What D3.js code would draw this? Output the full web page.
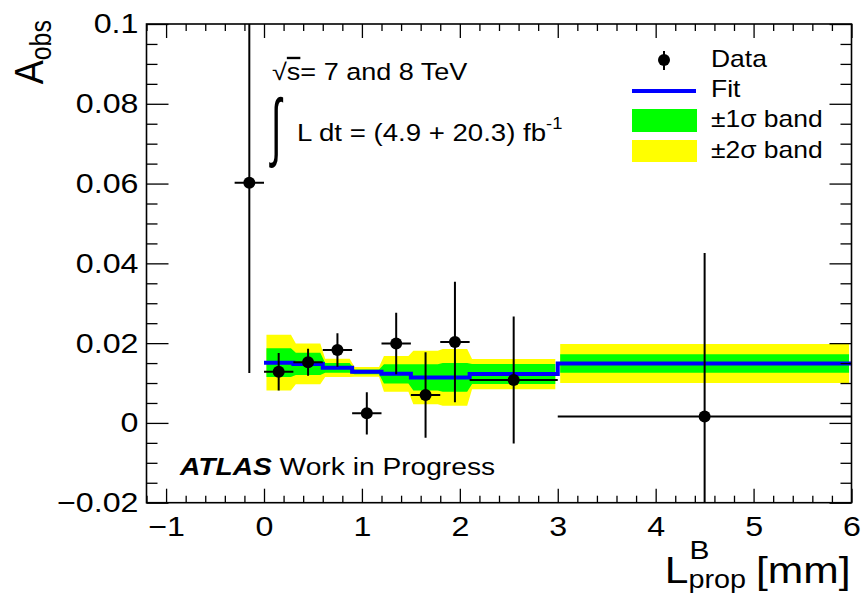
<!DOCTYPE html>
<meta charset="utf-8">
<style>
  body { margin: 0; background: #fff; }
  text { font-family: "Liberation Sans", Arial, Helvetica, sans-serif; fill: #000; }
</style>
<svg width="862" height="595"></svg>
<script src="https://cdn.jsdelivr.net/npm/d3@7/dist/d3.min.js"></script>
<script>

    // measured points: bin centre, half bin width, asymmetry, error
    var binX    = [-0.15, 0.15, 0.45, 0.75, 1.05, 1.35, 1.65, 1.95, 2.55, 4.5];
    var binHalf = [0.15, 0.15, 0.15, 0.15, 0.15, 0.15, 0.15, 0.15, 0.45, 1.5];
    var aObs    = [0.0602, 0.0128, 0.0152, 0.01825, 0.0024, 0.0199, 0.0070, 0.0203, 0.01075, 0.0016];
    var aErr    = [0.0477, 0.0047, 0.0034, 0.0042, 0.0053, 0.0077, 0.0107, 0.0151, 0.0159, 0.041];

    // fit and its bands, per fit bin
    var fitLo   = [0, 0.3, 0.6, 0.9, 1.2, 1.5, 1.8, 2.1, 3.0];
    var fitHi   = [0.3, 0.6, 0.9, 1.2, 1.5, 1.8, 2.1, 3.0, 6.0];
    var fitVal  = [0.0151, 0.0148, 0.0138, 0.0128, 0.0123, 0.0114, 0.0114, 0.01225, 0.0149];
    var sig1    = [0.0036, 0.0028, 0.0012, 0.0006, 0.0024, 0.0033, 0.0036, 0.0025, 0.0023];
    var sig2    = [0.0070, 0.0051, 0.0023, 0.0012, 0.0045, 0.0067, 0.0071, 0.0038, 0.0049];
    var bandGroup = [0, 0, 0, 0, 0, 0, 0, 0, 1];   // band is not joined across x = 3

    var xTicks = [-1, 0, 1, 2, 3, 4, 5, 6];
    var xTickLabels = ["\u22121", "0", "1", "2", "3", "4", "5", "6"];
    var yTicks = [-0.02, 0, 0.02, 0.04, 0.06, 0.08, 0.1];
    var yTickLabels = ["\u22120.02", "0", "0.02", "0.04", "0.06", "0.08", "0.1"];

    var svg = d3.select("svg"),
        frame = {left: 146.5, right: 851.5, top: 24, bottom: 502.7};

    var S = 1.15;   // the original canvas is stretched sideways, text too

    var x = d3.scaleLinear().domain([-1.2, 6]).range([frame.left, frame.right]);
    var y = d3.scaleLinear().domain([-0.02, 0.1]).range([frame.bottom, frame.top]);

    function label(parent, px, py, size, anchor) {
        return parent.append("text")
            .attr("transform", "translate(" + px + "," + py + ") scale(" + S + ",1)")
            .attr("font-size", size)
            .attr("text-anchor", anchor || "start");
    }

    svg.append("defs").append("clipPath").attr("id", "fr")
        .append("rect")
        .attr("x", frame.left).attr("y", frame.top)
        .attr("width", frame.right - frame.left).attr("height", frame.bottom - frame.top);

    var plot = svg.append("g").attr("clip-path", "url(#fr)");

    // bands
    var inset = 0.025;
    function bandPts(grp, sig) {
        var pts = [];
        fitLo.forEach(function(lo, i) {
            if (bandGroup[i] !== grp) return;
            pts.push({x: lo + inset, lo: fitVal[i] - sig[i], hi: fitVal[i] + sig[i]});
            pts.push({x: fitHi[i] - inset, lo: fitVal[i] - sig[i], hi: fitVal[i] + sig[i]});
        });
        return pts;
    }
    var area = d3.area().x((d) => x(d.x)).y0((d) => y(d.lo)).y1((d) => y(d.hi));
    var groups = Array.from(new Set(bandGroup));
    groups.forEach(function(gp) {
        plot.append("path").datum(bandPts(gp, sig2)).attr("d", area).attr("fill", "#ffff00");
    });
    groups.forEach(function(gp) {
        plot.append("path").datum(bandPts(gp, sig1)).attr("d", area).attr("fill", "#00ff00");
    });

    // fit step line
    var fitPts = [];
    fitLo.forEach(function(lo, i) {
        fitPts.push([lo, fitVal[i]]);
        fitPts.push([fitHi[i], fitVal[i]]);
    });
    plot.append("path").datum(fitPts)
        .attr("d", d3.line().x((d) => x(d[0])).y((d) => y(d[1])))
        .attr("fill", "none").attr("stroke", "#0000ff").attr("stroke-width", 4);

    // data points
    var pts = binX.map((v, i) => ({x: v, h: binHalf[i], a: aObs[i], e: aErr[i]}));
    var pg = plot.append("g").attr("stroke", "#000").attr("stroke-width", 2);
    pg.selectAll("line.h").data(pts).enter().append("line")
        .attr("x1", (d) => x(d.x - d.h)).attr("x2", (d) => x(d.x + d.h))
        .attr("y1", (d) => y(d.a)).attr("y2", (d) => y(d.a));
    pg.selectAll("line.v").data(pts).enter().append("line")
        .attr("x1", (d) => x(d.x)).attr("x2", (d) => x(d.x))
        .attr("y1", (d) => y(d.a - d.e)).attr("y2", (d) => y(d.a + d.e));
    plot.selectAll("circle").data(pts).enter().append("circle")
        .attr("cx", (d) => x(d.x)).attr("cy", (d) => y(d.a)).attr("r", 6).attr("fill", "#000");

    // axes, ticks inside the frame on all four sides
    var xMinor = d3.range(-1.2, 6.0001, 0.2).map((v) => +v.toFixed(2)).filter((v) => xTicks.indexOf(v) < 0);
    var yMinor = d3.range(-0.02, 0.1001, 0.005).map((v) => +v.toFixed(3)).filter((v) => yTicks.indexOf(v) < 0);

    function axis(gen, tx, ty, vals, size, labels) {
        var a = gen.tickValues(vals).tickSize(-size)
            .tickFormat(labels ? (d, i) => labels[i] : "");
        var g = svg.append("g").attr("transform", "translate(" + tx + "," + ty + ")").call(a);
        g.select(".domain").remove();
        g.selectAll("line").attr("stroke", "#000").attr("stroke-width", 1.3);
        return g;
    }

    var bx = axis(d3.axisBottom(x), 0, frame.bottom, xTicks, 14, xTickLabels);
    bx.selectAll("text").attr("y", 13).attr("font-size", 28).attr("fill", "#000")
        .attr("font-family", "Liberation Sans, Arial, sans-serif")
        .attr("transform", "scale(" + S + ",1)");
    axis(d3.axisBottom(x), 0, frame.bottom, xMinor, 7);
    axis(d3.axisTop(x), 0, frame.top, xTicks, 14);
    axis(d3.axisTop(x), 0, frame.top, xMinor, 7);

    var ly = axis(d3.axisLeft(y), frame.left, 0, yTicks, 22, yTickLabels);
    ly.selectAll("text").attr("x", -7).attr("font-size", 28).attr("fill", "#000")
        .attr("font-family", "Liberation Sans, Arial, sans-serif")
        .attr("transform", "scale(" + S + ",1)");
    axis(d3.axisLeft(y), frame.left, 0, yMinor, 11);
    axis(d3.axisRight(y), frame.right, 0, yTicks, 22);
    axis(d3.axisRight(y), frame.right, 0, yMinor, 11);

    svg.append("rect")
        .attr("x", frame.left).attr("y", frame.top)
        .attr("width", frame.right - frame.left).attr("height", frame.bottom - frame.top)
        .attr("fill", "none").attr("stroke", "#000").attr("stroke-width", 1.6);

    // y title
    var yt = svg.append("text")
        .attr("transform", "translate(43,20) scale(" + S + ",1) rotate(-90)")
        .attr("text-anchor", "end").attr("font-size", 36);
    yt.append("tspan").text("A");
    yt.append("tspan").attr("font-size", 25).attr("dy", 7).text("obs");

    // x title  L^B_prop [mm]
    var xt = svg.append("g");
    var tL = label(xt, 0, 583, 37).text("L");
    var wL = tL.node().getComputedTextLength();
    var tB = label(xt, 0, 559, 26).text("B");
    var tP = label(xt, 0, 588, 25).text("prop");
    var wP = Math.max(tP.node().getComputedTextLength(), tB.node().getComputedTextLength());
    var tM = label(xt, 0, 583, 37).text("[mm]");
    var wM = tM.node().getComputedTextLength();
    var gap = 10;
    var x0 = frame.right - 1 - (wL + wP + wM) * S - gap;
    tL.attr("transform", "translate(" + x0 + ",583) scale(" + S + ",1)");
    tB.attr("transform", "translate(" + (x0 + wL * S + 1) + ",559) scale(" + S + ",1)");
    tP.attr("transform", "translate(" + (x0 + wL * S) + ",588) scale(" + S + ",1)");
    tM.attr("transform", "translate(" + (x0 + (wL + wP) * S + gap) + ",583) scale(" + S + ",1)");

    // energy and luminosity
    var t1 = label(svg, 272, 80, 23.5);
    t1.append("tspan").text("\u221A");
    t1.append("tspan").attr("text-decoration", "overline").text("s");
    t1.append("tspan").text("= 7 and 8 TeV");
    svg.append("text").attr("transform", "translate(271,152) scale(0.65,1.3)")
        .attr("font-family", "Liberation Serif").attr("font-size", 58).text("\u222B");
    var t2 = label(svg, 297, 141, 24);
    t2.append("tspan").text("L dt = (4.9 + 20.3) fb");
    t2.append("tspan").attr("font-size", 16).attr("dy", -12).text("-1");

    // ATLAS label
    var at = label(svg, 180, 475, 24.5);
    at.append("tspan").attr("font-weight", "bold").attr("font-style", "italic").text("ATLAS");
    at.append("tspan").text(" Work in Progress");

    // legend
    var leg = svg.append("g");
    leg.append("line").attr("x1", 664).attr("x2", 664).attr("y1", 51).attr("y2", 70)
        .attr("stroke", "#000").attr("stroke-width", 2);
    leg.append("circle").attr("cx", 664).attr("cy", 60).attr("r", 6).attr("fill", "#000");
    leg.append("line").attr("x1", 632).attr("x2", 696).attr("y1", 91).attr("y2", 91)
        .attr("stroke", "#0000ff").attr("stroke-width", 4);
    leg.append("rect").attr("x", 632).attr("y", 109).attr("width", 65).attr("height", 23).attr("fill", "#00ff00");
    leg.append("rect").attr("x", 632).attr("y", 140).attr("width", 65).attr("height", 22).attr("fill", "#ffff00");
    var legText = ["Data", "Fit", "\u00B11\u03C3 band", "\u00B12\u03C3 band"];
    var legBase = [67, 97, 127, 158];
    legText.forEach(function(s, i) { label(leg, 711, legBase[i], 23).text(s); });

</script>
